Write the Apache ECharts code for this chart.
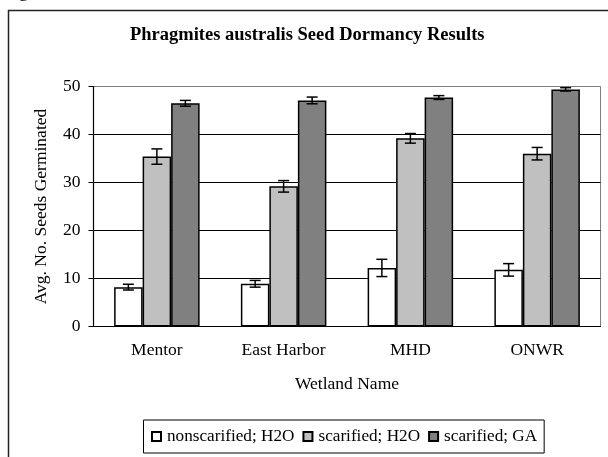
<!DOCTYPE html>
<html>
<head>
<meta charset="utf-8">
<script src="https://cdn.jsdelivr.net/npm/echarts@6/dist/echarts.min.js"></script>
<style>
html, body { margin: 0; padding: 0; background: #fff; }
#chart { width: 608px; height: 457px; }
</style>
</head>
<body>
<div id="chart"></div>
<script>
// wetland sites on the x axis
var wetlands = ["Mentor", "East Harbor", "MHD", "ONWR"];
var seriesNames = ["nonscarified; H2O", "scarified; H2O", "scarified; GA"];

// means
var nonscarH2O = [8.2, 8.9, 12.2, 11.8];
var scarH2O = [35.4, 29.2, 39.2, 36.0];
var scarGA = [46.5, 47.1, 47.7, 49.4];

// half length of the error bars
var nonscarH2OErr = [0.6, 0.7, 1.8, 1.3];
var scarH2OErr = [1.6, 1.2, 1.0, 1.3];
var scarGAErr = [0.6, 0.7, 0.4, 0.35];

var yTicks = [0, 10, 20, 30, 40, 50];

var barColors = ["#ffffff", "#c0c0c0", "#808080"];
var BAR_W = 28.5;
var FONT = "'Liberation Serif', 'Times New Roman', serif";

function buildErrData() {
    var means = [nonscarH2O, scarH2O, scarGA];
    var errs = [nonscarH2OErr, scarH2OErr, scarGAErr];
    var out = [];
    for (var s = 0; s < means.length; s++) {
        for (var c = 0; c < wetlands.length; c++) {
            out.push([c, s, means[s][c] - errs[s][c], means[s][c] + errs[s][c]]);
        }
    }
    return out;
}

function renderErr(params, api) {
    var cat = api.value(0);
    var s = api.value(1);
    var lo = api.coord([cat, api.value(2)]);
    var hi = api.coord([cat, api.value(3)]);
    var x = lo[0] + (s - 1) * BAR_W;
    var cap = 5.5;
    var st = { stroke: "#000", lineWidth: 1.5 };
    return {
        type: "group",
        children: [
            { type: "line", shape: { x1: x, y1: lo[1], x2: x, y2: hi[1] }, style: st },
            { type: "line", shape: { x1: x - cap, y1: lo[1], x2: x + cap, y2: lo[1] }, style: st },
            { type: "line", shape: { x1: x - cap, y1: hi[1], x2: x + cap, y2: hi[1] }, style: st }
        ]
    };
}

function barSeries(name, data, color) {
    return {
        name: name,
        type: "bar",
        data: data,
        barWidth: BAR_W,
        barGap: "0%",
        itemStyle: { color: color, borderColor: "#000", borderWidth: 1.5 },
        emphasis: { disabled: true },
        animation: false
    };
}

var chart = echarts.init(document.getElementById("chart"));
chart.setOption({
    backgroundColor: "#fff",
    animation: false,
    textStyle: { fontFamily: FONT, color: "#000" },
    title: {
        text: "Phragmites australis Seed Dormancy Results",
        left: 125,
        top: 21,
        textStyle: { fontFamily: FONT, fontSize: 18.5, fontWeight: "bold", color: "#000" }
    },
    graphic: [
        {
            type: "rect",
            shape: { x: 8.5, y: 10.5, width: 640, height: 480 },
            style: { fill: "none", stroke: "#222", lineWidth: 1.5 },
            silent: true
        },
        {
            type: "text",
            left: 4,
            top: -17,
            style: { text: "Figure", font: "18px 'Liberation Serif'", fill: "#000" },
            silent: true
        }
    ],
    legend: {
        data: seriesNames,
        left: 143.5,
        top: 420,
        padding: [8, 7, 8, 7.5],
        itemWidth: 9,
        itemHeight: 9,
        itemGap: 8,
        borderColor: "#000",
        borderWidth: 1,
        icon: "rect",
        textStyle: { fontFamily: FONT, fontSize: 17.2, color: "#000", padding: [0, 0, 0, 1] }
    },
    grid: {
        left: 93.5,
        right: 7.5,
        top: 86.5,
        bottom: 130.5,
        show: true,
        borderColor: "#808080",
        borderWidth: 1
    },
    xAxis: {
        type: "category",
        data: wetlands,
        name: "Wetland Name",
        nameLocation: "middle",
        nameGap: 49,
        nameTextStyle: { fontFamily: FONT, fontSize: 17.5, color: "#000" },
        axisLine: { lineStyle: { color: "#000", width: 1.2 } },
        axisTick: { length: 5, lineStyle: { color: "#000" } },
        axisLabel: { fontFamily: FONT, fontSize: 17.5, color: "#000", margin: 15 }
    },
    yAxis: {
        type: "value",
        min: yTicks[0],
        max: yTicks[yTicks.length - 1],
        interval: 10,
        name: "Avg. No. Seeds Germinated",
        nameLocation: "middle",
        nameGap: 43,
        nameTextStyle: { fontFamily: FONT, fontSize: 17.5, color: "#000" },
        axisLine: { show: true, lineStyle: { color: "#000", width: 1.2 } },
        axisTick: { show: true, length: 5, lineStyle: { color: "#000" } },
        axisLabel: { fontFamily: FONT, fontSize: 17.5, color: "#000", margin: 13 },
        splitLine: {
            show: true,
            lineStyle: { color: ["#000", "#000", "#000", "#000", "#000", "#808080"], width: 1 }
        }
    },
    series: [
        barSeries(seriesNames[0], nonscarH2O, barColors[0]),
        barSeries(seriesNames[1], scarH2O, barColors[1]),
        barSeries(seriesNames[2], scarGA, barColors[2]),
        {
            name: "err",
            type: "custom",
            renderItem: renderErr,
            data: buildErrData(),
            encode: { x: 0, y: [2, 3] },
            z: 10,
            silent: true,
            animation: false
        }
    ]
});
</script>
</body>
</html>
